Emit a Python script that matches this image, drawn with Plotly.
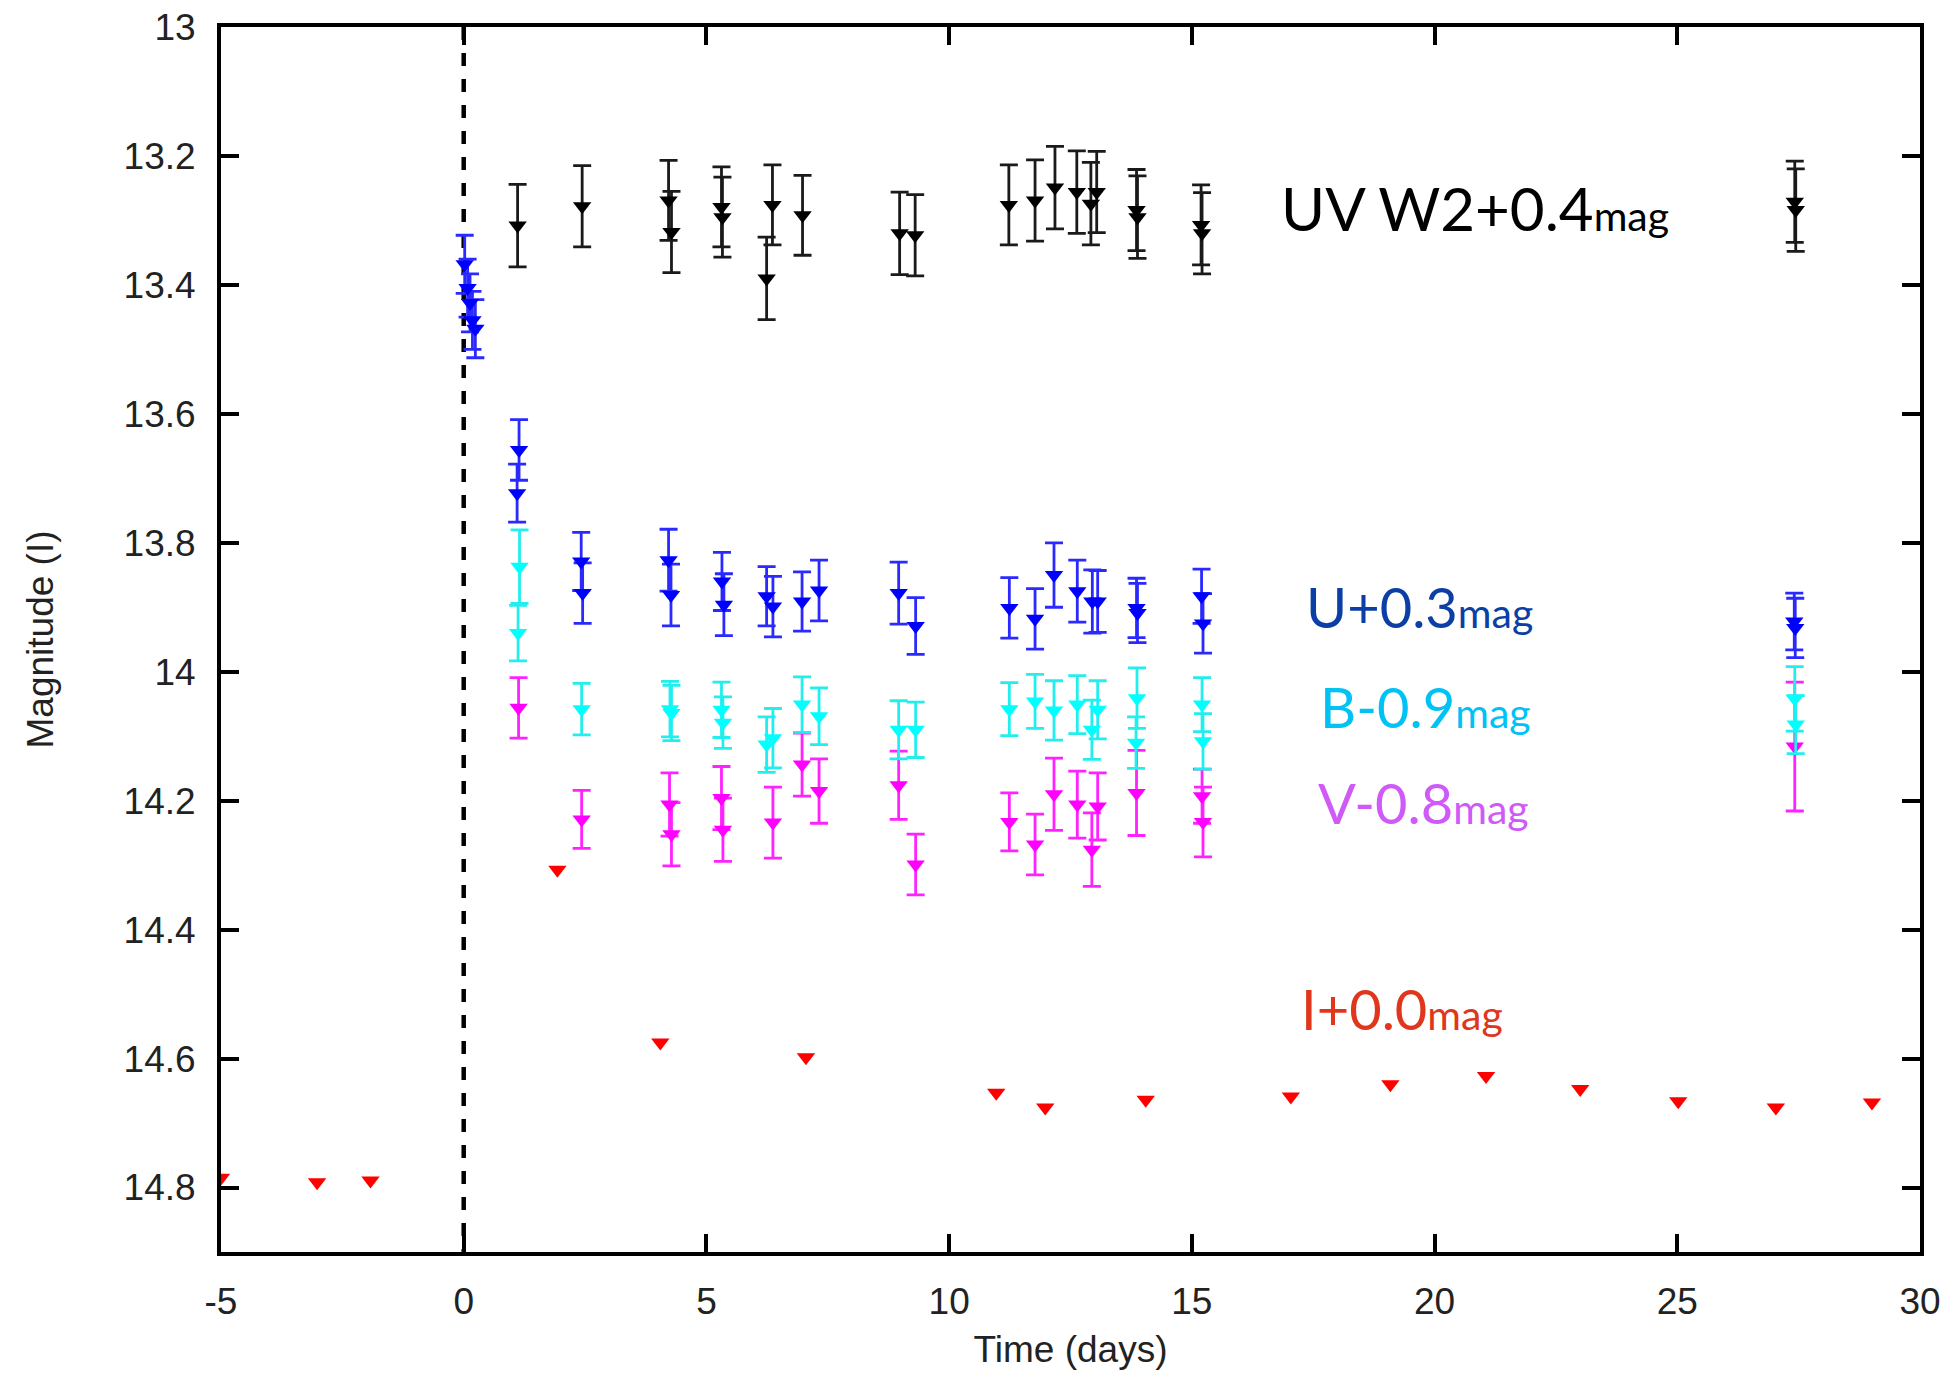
import plotly.graph_objects as go

# ---------------- data ----------------
# UVW2 (+0.4 mag), black
t_uvw2 = [1.11, 2.44, 4.22, 4.28, 5.31, 5.33, 6.24, 6.36, 6.98, 8.98, 9.30, 11.23, 11.77,
          12.18, 12.63, 12.92, 13.04, 13.86, 13.88, 15.19, 15.21, 27.42, 27.44]
m_uvw2 = [13.308, 13.278, 13.269, 13.318, 13.279, 13.295, 13.390, 13.276, 13.292, 13.320,
          13.323, 13.276, 13.269, 13.249, 13.256, 13.274, 13.256, 13.284, 13.295, 13.307,
          13.320, 13.271, 13.284]
e_uvw2 = [0.064, 0.063, 0.062, 0.063, 0.062, 0.062, 0.064, 0.062, 0.062, 0.064, 0.063,
          0.062, 0.063, 0.064, 0.064, 0.064, 0.063, 0.063, 0.064, 0.062, 0.063, 0.063, 0.064]

# U (+0.3 mag), blue
t_u = [0.02, 0.08, 0.13, 0.18, 0.24, 1.14, 1.10, 2.42, 2.45, 4.22, 4.27, 5.32, 5.36, 6.24,
       6.37, 6.97, 7.32, 8.96, 9.31, 11.24, 11.77, 12.16, 12.64, 12.95, 13.06, 13.86, 13.88,
       15.20, 15.23, 27.41, 27.43]
m_u = [13.368, 13.405, 13.428, 13.455, 13.468, 13.656, 13.723, 13.829, 13.878, 13.827,
       13.881, 13.860, 13.896, 13.883, 13.899, 13.891, 13.874, 13.878, 13.929, 13.901,
       13.918, 13.850, 13.875, 13.891, 13.891, 13.901, 13.909, 13.883, 13.925, 13.922, 13.932]
e_u = [0.045, 0.045, 0.045, 0.045, 0.045, 0.047, 0.045, 0.045, 0.047, 0.048, 0.048, 0.045,
       0.048, 0.046, 0.047, 0.046, 0.047, 0.048, 0.044, 0.047, 0.047, 0.050, 0.048, 0.049,
       0.048, 0.046, 0.046, 0.042, 0.046, 0.044, 0.046]

# B (-0.9 mag), cyan
t_b = [1.15, 1.12, 2.43, 4.25, 4.28, 5.31, 5.34, 6.24, 6.37, 6.97, 7.32, 8.96, 9.31, 11.24,
       11.77, 12.16, 12.64, 12.94, 13.06, 13.87, 13.85, 15.21, 15.23, 27.42, 27.44]
m_b = [13.837, 13.940, 14.058, 14.058, 14.064, 14.059, 14.079, 14.113, 14.103, 14.051,
       14.069, 14.090, 14.090, 14.058, 14.046, 14.060, 14.051, 14.090, 14.059, 14.041,
       14.110, 14.051, 14.108, 14.042, 14.082]
e_b = [0.057, 0.043, 0.040, 0.043, 0.043, 0.043, 0.040, 0.043, 0.046, 0.043, 0.044, 0.045,
       0.043, 0.041, 0.042, 0.046, 0.045, 0.046, 0.045, 0.047, 0.040, 0.042, 0.043, 0.050, 0.045]

# V (-0.8 mag), magenta
t_v = [1.13, 2.43, 4.24, 4.28, 5.31, 5.34, 6.37, 6.97, 7.32, 8.96, 9.31, 11.24, 11.77,
       12.16, 12.64, 12.94, 13.06, 13.86, 15.21, 15.23, 27.42]
m_v = [14.056, 14.229, 14.206, 14.252, 14.196, 14.245, 14.234, 14.144, 14.185, 14.176,
       14.299, 14.233, 14.268, 14.190, 14.206, 14.276, 14.209, 14.188, 14.193, 14.233, 14.116]
e_v = [0.047, 0.045, 0.049, 0.049, 0.049, 0.049, 0.055, 0.049, 0.050, 0.053, 0.047, 0.045,
       0.047, 0.056, 0.052, 0.057, 0.052, 0.066, 0.042, 0.054, 0.100]

# I (+0.0 mag), red
t_i = [-5.0, -3.02, -1.92, 1.93, 4.05, 7.05, 10.97, 11.98, 14.05, 17.04, 19.09, 21.06,
       23.0, 25.02, 27.03, 29.01]
m_i = [14.785, 14.792, 14.789, 14.307, 14.575, 14.598, 14.653, 14.676, 14.664, 14.659,
       14.640, 14.627, 14.647, 14.666, 14.676, 14.668]

# explosion epoch marker and axis settings
t_zero = [0, 0]
m_zero = [13.0, 14.9]
x_ticks = [-5, 0, 5, 10, 15, 20, 25, 30]
y_ticks = [13.0, 13.2, 13.4, 13.6, 13.8, 14.0, 14.2, 14.4, 14.6, 14.8]
y_ticktext = ["13", "13.2", "13.4", "13.6", "13.8", "14", "14.2", "14.4", "14.6", "14.8"]

labels = ["UV W2+0.4", "U+0.3", "B-0.9", "V-0.8", "I+0.0"]
label_x = [16.80, 17.30, 17.60, 17.56, 17.20]
label_y = [13.280, 13.899, 14.054, 14.203, 14.522]
label_colors = ["#000000", "#0b3fa6", "#00c2f4", "#cf5af7", "#e0361c"]
label_sizes = [60, 56, 56, 56, 56]

# ---------------- figure ----------------
fig = go.Figure()


def add_band(t, m, e, color, barcolor):
    fig.add_trace(go.Scatter(
        x=t, y=m, mode="markers",
        marker=dict(symbol="triangle-down", size=16, color=color, line=dict(width=0)),
        error_y=dict(type="data", array=e, visible=True, color=barcolor,
                     thickness=2.8, width=9),
        showlegend=False, cliponaxis=False,
    ))


fig.add_trace(go.Scatter(
    x=t_zero, y=m_zero, mode="lines",
    line=dict(color="black", width=4.5, dash="13px,13px"),
    showlegend=False, hoverinfo="skip",
))

add_band(t_v, m_v, e_v, "#ff00ff", "#ff22ff")
add_band(t_b, m_b, e_b, "#00ffff", "#22eeee")
add_band(t_u, m_u, e_u, "#0000ff", "#2a2aff")
add_band(t_uvw2, m_uvw2, e_uvw2, "#000000", "#1a1a1a")

fig.add_trace(go.Scatter(
    x=t_i, y=m_i, mode="markers",
    marker=dict(symbol="triangle-down", size=16, color="#ff0000", line=dict(width=0)),
    showlegend=False, cliponaxis=True,
))

for txt, lx, ly, col, sz in zip(labels, label_x, label_y, label_colors, label_sizes):
    fig.add_annotation(
        x=lx, y=ly, xref="x", yref="y", xanchor="left", yanchor="middle",
        text=f"{txt}<span style='font-size:41px'>mag</span>",
        showarrow=False,
        font=dict(family="Lato, 'Open Sans', sans-serif", size=sz, color=col),
    )

tick_font = dict(family="Liberation Sans, Arial, sans-serif", size=37, color="#222222")

fig.update_xaxes(
    range=[-5, 30], tickvals=x_ticks, ticktext=[str(v) for v in x_ticks],
    ticks="inside", ticklen=18, tickwidth=3.5, tickcolor="black",
    showline=True, linewidth=4, linecolor="black", mirror="ticks",
    showgrid=False, zeroline=False, tickfont=tick_font, ticklabelstandoff=14,
    title=dict(text="Time (days)", font=tick_font, standoff=16),
)
fig.update_yaxes(
    range=[14.9, 13.0], tickvals=y_ticks, ticktext=y_ticktext,
    ticks="inside", ticklen=18, tickwidth=3.5, tickcolor="black",
    showline=True, linewidth=4, linecolor="black", mirror="ticks",
    showgrid=False, zeroline=False, tickfont=tick_font, ticklabelstandoff=14,
    title=dict(text="Magnitude (I)", font=tick_font, standoff=60),
)

fig.update_layout(
    width=1958, height=1376, autosize=False,
    margin=dict(l=221, r=38, t=27, b=124, pad=0),
    plot_bgcolor="white", paper_bgcolor="white",
    xaxis_automargin=False, yaxis_automargin=False,
)

fig.write_html("out.html")
